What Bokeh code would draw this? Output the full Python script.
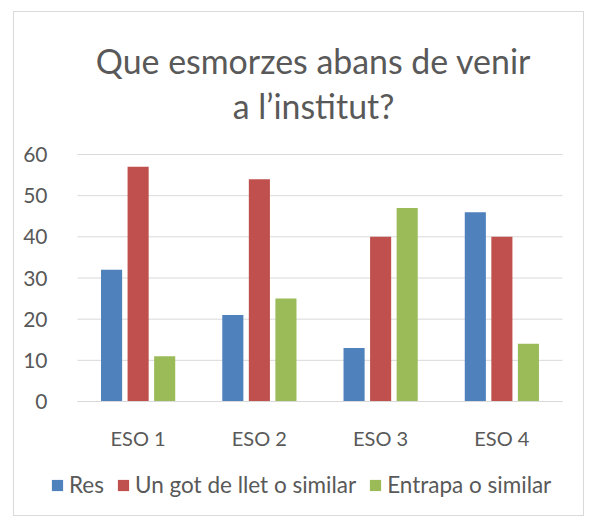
from bokeh.plotting import figure
from bokeh.models import Range1d, Legend, LegendItem, ColumnDataSource, FixedTicker, Label, LinearAxis
from bokeh.transform import dodge
from bokeh.embed import file_html
from bokeh.resources import INLINE

categories = ["ESO 1", "ESO 2", "ESO 3", "ESO 4"]
res = [32, 21, 13, 46]
got_llet = [57, 54, 40, 40]
entrapa = [11, 25, 47, 14]
series_names = ["Res", "Un got de llet o similar", "Entrapa o similar"]
y_ticks = [0, 10, 20, 30, 40, 50, 60]
title_lines = ["Que esmorzes abans de venir", "a l\u2019institut?"]

colors = ["#4F81BD", "#C0504D", "#9BBB59"]
TXT = "#595959"
GRID = "#D9D9D9"
FONT = "Lato"

W, H = 571, 505
# pixel layout of the plot area inside the canvas
PL, PR, PT, PB = 63, 548, 142, 389          # left, right, top, bottom (canvas px, from top-left)
ncat = len(categories)
ymax = y_ticks[-1]
ux = (PR - PL) / ncat                        # px per category
uy = (PB - PT) / ymax                        # px per value unit

x_range = Range1d(-PL / ux, (W - PL) / ux)
y_range = Range1d(-(H - PB) / uy, PT / uy + ymax)

p = figure(width=W, height=H, x_range=x_range, y_range=y_range,
           output_backend="svg", toolbar_location=None,
           min_border=0, min_border_left=0, min_border_right=0, min_border_top=0, min_border_bottom=0,
           x_axis_location=None, y_axis_location=None)
p.margin = (11, 0, 0, 13)
p.styles = {"border": "1px solid #D9D9D9"}
p.outline_line_color = None
p.background_fill_color = "white"
p.border_fill_color = "white"
p.xgrid.visible = False
p.ygrid.visible = False

centers = [i + 0.5 for i in range(ncat)]
bw = 0.174
off = 0.219
src = ColumnDataSource(dict(x=centers, res=res, got=got_llet, ent=entrapa))

# horizontal gridlines across the plot area
p.segment(x0=[0] * len(y_ticks), x1=[ncat] * len(y_ticks), y0=y_ticks, y1=y_ticks,
          line_color=GRID, line_width=1)

r1 = p.vbar(x=dodge("x", -off), top="res", width=bw, source=src, color=colors[0], line_color=None)
r2 = p.vbar(x=dodge("x", 0.0), top="got", width=bw, source=src, color=colors[1], line_color=None)
r3 = p.vbar(x=dodge("x", off), top="ent", width=bw, source=src, color=colors[2], line_color=None)

yax = LinearAxis(ticker=FixedTicker(ticks=y_ticks), fixed_location=0, bounds=(0, ymax))
yax.axis_line_color = None
yax.major_tick_line_color = None
yax.minor_tick_line_color = None
yax.major_label_standoff = 24
yax.major_label_text_font = FONT
yax.major_label_text_font_size = "21px"
yax.major_label_text_color = TXT
p.add_layout(yax, "left")

xax = LinearAxis(ticker=FixedTicker(ticks=centers), fixed_location=0, bounds=(0, ncat),
                 major_label_overrides={c: n for c, n in zip(centers, categories)})
xax.axis_line_color = GRID
xax.major_tick_line_color = None
xax.minor_tick_line_color = None
xax.major_label_standoff = 18
xax.major_label_text_font = FONT
xax.major_label_text_font_size = "20px"
xax.major_label_text_color = TXT
p.add_layout(xax, "below")

# two-line title
tx = (299 - PL) / ux
for i, t in enumerate(title_lines):
    base_px = 48 + 45 * i
    p.add_layout(Label(x=tx, y=(PB - base_px) / uy, text=t, text_align="center",
                       text_baseline="alphabetic", text_font=FONT, text_font_size="33.9px",
                       text_color=TXT))

legend = Legend(items=[LegendItem(label=series_names[0], renderers=[r1]),
                       LegendItem(label=series_names[1], renderers=[r2]),
                       LegendItem(label=series_names[2], renderers=[r3])],
                orientation="horizontal", location=(36, 19),
                glyph_width=14, glyph_height=14, label_standoff=5, spacing=12,
                padding=0, margin=0, border_line_color=None, background_fill_alpha=0,
                label_text_font=FONT, label_text_font_size="22.5px", label_text_color=TXT)
p.add_layout(legend, "center")

open("out.html", "w").write(file_html(p, INLINE))
